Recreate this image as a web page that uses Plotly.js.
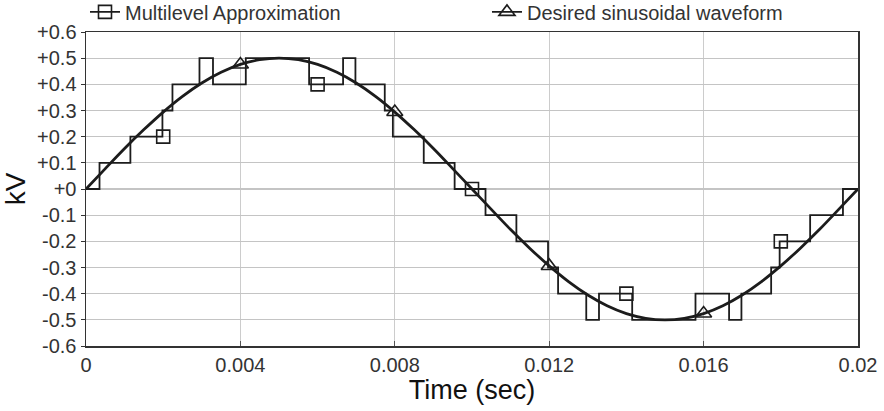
<!DOCTYPE html>
<html>
<head>
<meta charset="utf-8">
<script src="https://cdn.plot.ly/plotly-3.0.1.min.js"></script>
<style>html,body{margin:0;padding:0;background:#fff;}#chart{width:884px;height:411px;}</style>
</head>
<body>
<div id="chart"></div>
<script>
// Desired sinusoidal waveform
const sineT = [0, 0.0005, 0.001, 0.0015, 0.002, 0.0025, 0.003, 0.0035, 0.004, 0.0045, 0.005,
  0.0055, 0.006, 0.0065, 0.007, 0.0075, 0.008, 0.0085, 0.009, 0.0095, 0.01,
  0.0105, 0.011, 0.0115, 0.012, 0.0125, 0.013, 0.0135, 0.014, 0.0145, 0.015,
  0.0155, 0.016, 0.0165, 0.017, 0.0175, 0.018, 0.0185, 0.019, 0.0195, 0.02];
const sineV = [0, 0.078, 0.155, 0.227, 0.294, 0.354, 0.405, 0.446, 0.476, 0.494, 0.5,
  0.494, 0.476, 0.446, 0.405, 0.354, 0.294, 0.227, 0.155, 0.078, 0,
  -0.078, -0.155, -0.227, -0.294, -0.354, -0.405, -0.446, -0.476, -0.494, -0.5,
  -0.494, -0.476, -0.446, -0.405, -0.354, -0.294, -0.227, -0.155, -0.078, 0];

// Multilevel approximation: switching instants and the level after each switch
const stepT = [0, 0.00035, 0.00115, 0.00198, 0.00224, 0.00294, 0.00329, 0.00414, 0.00578, 0.00666,
  0.00698, 0.00774, 0.00795, 0.00875, 0.00955, 0.01035, 0.01115, 0.01197, 0.01223, 0.01296,
  0.01329, 0.01415, 0.01579, 0.01666, 0.01698, 0.01775, 0.01797, 0.01876, 0.01961, 0.02];
const stepLevel = [0, 0.1, 0.2, 0.3, 0.4, 0.5, 0.4, 0.5, 0.4, 0.5,
  0.4, 0.3, 0.2, 0.1, 0, -0.1, -0.2, -0.3, -0.4, -0.5,
  -0.4, -0.5, -0.4, -0.5, -0.4, -0.3, -0.2, -0.1, 0, 0];

// Marker points
const squareT = [0.002, 0.006, 0.010, 0.014, 0.018];
const squareV = [0.2, 0.4, 0, -0.4, -0.2];
const triT = [0.004, 0.008, 0.012, 0.016];
const triV = [0.476, 0.294, -0.294, -0.476];

// Axis ticks
const xTickVals = [0, 0.004, 0.008, 0.012, 0.016, 0.02];
const xTickText = ['0', '0.004', '0.008', '0.012', '0.016', '0.02'];
const yTickVals = [0.6, 0.5, 0.4, 0.3, 0.2, 0.1, 0, -0.1, -0.2, -0.3, -0.4, -0.5, -0.6];
const yTickText = ['+0.6', '+0.5', '+0.4', '+0.3', '+0.2', '+0.1', '+0', '-0.1', '-0.2', '-0.3', '-0.4', '-0.5', '-0.6'];

const names = ['Multilevel Approximation', 'Desired sinusoidal waveform'];

function isolated(xs, ys) {
  const x = [], y = [];
  xs.forEach((v, i) => { x.push(v, null); y.push(ys[i], null); });
  return {x, y};
}
const sq = isolated(squareT, squareV);
const tr = isolated(triT, triV);

const ink = '#1c1c1c';
const traces = [
  {x: stepT, y: stepLevel, type: 'scatter', mode: 'lines', line: {shape: 'hv', color: ink, width: 1.8}, showlegend: false, hoverinfo: 'skip'},
  {x: sineT, y: sineV, type: 'scatter', mode: 'lines', line: {shape: 'spline', smoothing: 1, color: ink, width: 2.8}, showlegend: false, hoverinfo: 'skip'},
  {x: sq.x, y: sq.y, type: 'scatter', mode: 'lines+markers', name: names[0], legend: 'legend', connectgaps: false,
   line: {color: ink, width: 1.8}, marker: {symbol: 'square-open', size: 13, color: ink, line: {width: 1.6, color: ink}}},
  {x: tr.x, y: tr.y, type: 'scatter', mode: 'lines+markers', name: names[1], legend: 'legend2', connectgaps: false,
   line: {color: ink, width: 1.8}, marker: {symbol: 'triangle-up-open', size: 14, color: ink, line: {width: 1.6, color: ink}}}
];

const font = 'Liberation Sans, Arial, sans-serif';
const layout = {
  width: 884, height: 411,
  margin: {l: 86, r: 26, t: 32, b: 65, autoexpand: false},
  paper_bgcolor: '#fff', plot_bgcolor: '#fff',
  font: {family: font, color: '#333'},
  xaxis: {
    range: [0, 0.02], tickvals: xTickVals, ticktext: xTickText,
    showline: true, mirror: true, linecolor: '#333', linewidth: 1.5,
    showgrid: true, gridcolor: '#cccccc', gridwidth: 1.2, zeroline: false,
    ticks: 'inside', ticklen: 5, tickcolor: '#555',
    tickfont: {size: 20, color: '#333'}, automargin: false,
    title: {text: 'Time (sec)', font: {size: 27, color: '#111'}, standoff: 1}
  },
  yaxis: {
    range: [-0.6, 0.6], tickvals: yTickVals, ticktext: yTickText,
    showline: true, mirror: true, linecolor: '#333', linewidth: 1.5,
    showgrid: true, gridcolor: '#c4c4c4', gridwidth: 1.2, zeroline: false,
    ticks: 'outside', ticklen: 4, tickcolor: '#333',
    tickfont: {size: 20, color: '#333'}, automargin: false,
    title: {text: 'kV', font: {size: 28, color: '#111'}, standoff: 8}
  },
  legend: {orientation: 'h', x: -0.0013, xanchor: 'left', y: 1.064, yanchor: 'middle',
    bgcolor: 'rgba(0,0,0,0)', font: {size: 20, color: '#333'}},
  legend2: {orientation: 'h', x: 0.5194, xanchor: 'left', y: 1.064, yanchor: 'middle',
    bgcolor: 'rgba(0,0,0,0)', font: {size: 20, color: '#333'}},
  showlegend: true
};

Plotly.newPlot('chart', traces, layout, {displayModeBar: false, staticPlot: true});
</script>
</body>
</html>
